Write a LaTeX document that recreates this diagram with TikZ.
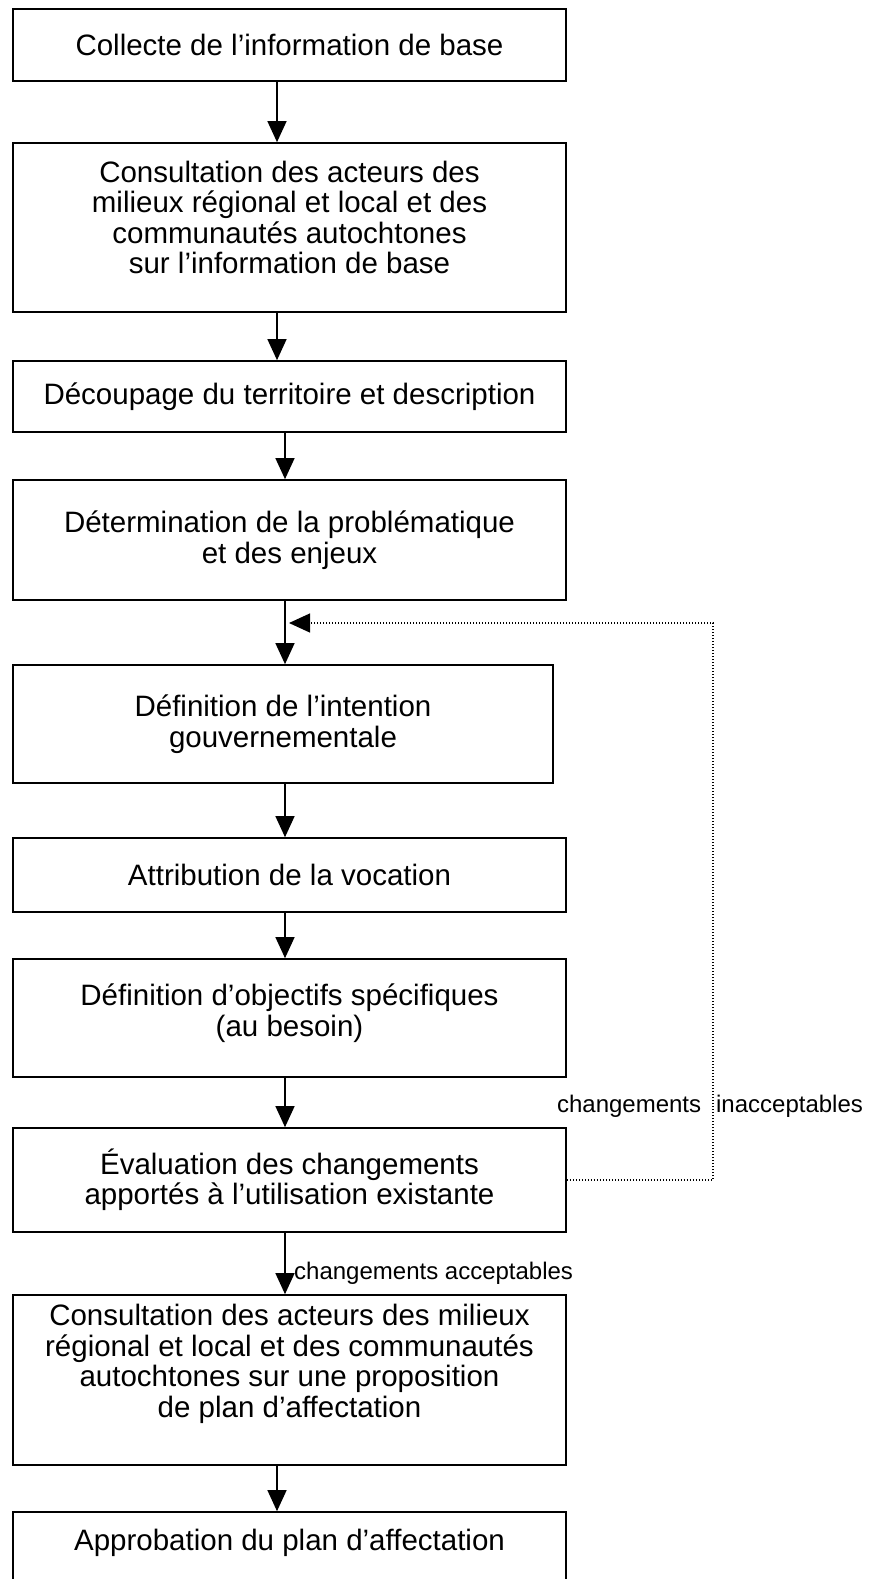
\documentclass[tikz,border=0pt]{standalone}
\usepackage{fontspec}
\setmainfont{Liberation Sans}
\usetikzlibrary{arrows.meta,positioning}
\tikzset{
stepbox/.style={draw, line width=1.7pt, minimum width=553pt, align=center, inner sep=0pt, font=\fontsize{29.5}{30.5}\selectfont},
flow/.style={line width=1.3pt, -{Triangle[width=19pt,length=21pt]}},
back/.style={line width=1.2pt, dash pattern=on 1.2pt off 1.8pt, -{Triangle[width=19pt,length=21pt]}},
note/.style={inner sep=0pt, font=\fontsize{24}{26}\selectfont},
lift/.style={text depth=#1}
}
\begin{document}
\begin{tikzpicture}[x=1pt,y=-1pt]
\useasboundingbox (0,0) rectangle (870,1579);
\coordinate (axisT) at (277,0);
\coordinate (axis) at (285,0);
\coordinate (loop) at (713,0);
\coordinate (ret) at (289,623);
\node[stepbox, minimum height=72pt] (b1) at (289.5,45) {Collecte de l’information de base};
\node[stepbox, minimum height=169pt, lift=20pt] (b2) at (289.5,227.5) {Consultation des acteurs des\\milieux régional et local et des\\communautés autochtones\\sur l’information de base};
\node[stepbox, minimum height=71pt] (b3) at (289.5,396.5) {Découpage du territoire et description};
\node[stepbox, minimum height=120pt] (b4) at (289.5,540) {Détermination de la problématique\\et des enjeux};
\node[stepbox, minimum height=118pt, minimum width=540pt] (b5) at (283,724) {Définition de l’intention\\gouvernementale};
\node[stepbox, minimum height=74pt] (b6) at (289.5,875) {Attribution de la vocation};
\node[stepbox, minimum height=118pt, lift=16pt] (b7) at (289.5,1018) {Définition d’objectifs spécifiques\\(au besoin)};
\node[stepbox, minimum height=104pt] (b8) at (289.5,1180) {Évaluation des changements\\apportés à l’utilisation existante};
\node[stepbox, minimum height=170pt, lift=38pt] (b9) at (289.5,1380) {Consultation des acteurs des milieux\\régional et local et des communautés\\autochtones sur une proposition\\de plan d’affectation};
\node[stepbox, minimum height=80pt, lift=24pt] (b10) at (289.5,1552) {Approbation du plan d’affectation};
\draw[flow] (b1.south -| axisT) -- (b2.north -| axisT);
\draw[flow] (b2.south -| axisT) -- (b3.north -| axisT);
\draw[flow] (b3.south -| axis) -- (b4.north -| axis);
\draw[flow] (b4.south -| axis) -- (b5.north -| axis);
\draw[flow] (b5.south -| axis) -- (b6.north -| axis);
\draw[flow] (b6.south -| axis) -- (b7.north -| axis);
\draw[flow] (b7.south -| axis) -- (b8.north -| axis);
\draw[flow] (b8.south -| axis) -- (b9.north -| axis);
\draw[flow] (b9.south -| axisT) -- (b10.north -| axisT);
\draw[back] (b8.east) -| (loop |- ret) -- (ret);
\node[note, anchor=base] (nogo) at (710,1112) {changements\hspace{15pt}inacceptables};
\node[note, anchor=base west] (go) at (294,1279) {changements acceptables};
\end{tikzpicture}
\end{document}
